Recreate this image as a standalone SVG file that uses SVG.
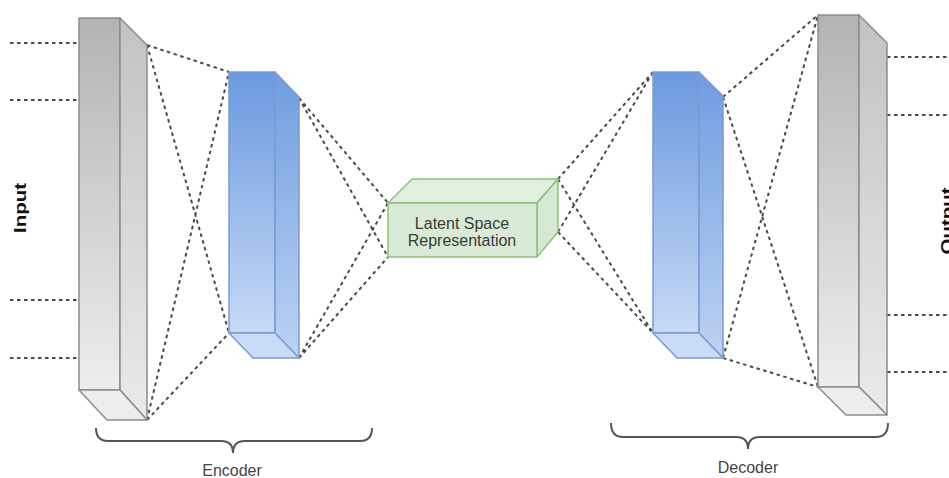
<svg xmlns="http://www.w3.org/2000/svg" width="949" height="478" viewBox="0 0 949 478">
<defs>
<linearGradient id="gGray" x1="0" y1="0" x2="0" y2="1">
<stop offset="0" stop-color="#b3b3b3"/><stop offset="1" stop-color="#ededed"/>
</linearGradient>
<linearGradient id="gGraySide" x1="0" y1="0" x2="0" y2="1">
<stop offset="0" stop-color="#c2c2c2"/><stop offset="1" stop-color="#eaeaea"/>
</linearGradient>
<linearGradient id="gBlue" x1="0" y1="0" x2="0" y2="1">
<stop offset="0" stop-color="#6b98de"/><stop offset="1" stop-color="#c6daf6"/>
</linearGradient>
<linearGradient id="gBlueSide" x1="0" y1="0" x2="0" y2="1">
<stop offset="0" stop-color="#6f9ce0"/><stop offset="1" stop-color="#bcd3f3"/>
</linearGradient>
<style>
.dot{fill:none;stroke:#4a4a4a;stroke-width:2;stroke-dasharray:3.5 3.5}
.gray{stroke:#8c8c8c;stroke-width:1.5;stroke-linejoin:round}
.blue{stroke:#7a9bd0;stroke-width:1.5;stroke-linejoin:round}
.green{stroke:#8fbf78;stroke-width:1.5;stroke-linejoin:round}
.brace{fill:none;stroke:#555;stroke-width:2}
.lbl{font-family:"Liberation Sans",Arial,sans-serif;fill:#444;font-size:16px;text-anchor:middle}
.io{font-family:"Liberation Sans",Arial,sans-serif;fill:#111;font-size:17px;font-weight:bold;text-anchor:middle}
.lat{font-family:"Liberation Sans",Arial,sans-serif;fill:#3a3a3a;font-size:16px;text-anchor:middle}
</style>
</defs>
<g id="connectors">
<path class="dot" d="M10,43H79M10,100H79M10,300H79M10,358H79"/>
<path class="dot" d="M887,57H949M887,115H949M887,315H949M887,372H949"/>
<path class="dot" d="M147,45L229,72M147,45L229,333M147,420L229,72M147,420L229,333"/>
<path class="dot" d="M299,98L388,203M299,98L388,257M299,358L388,203M299,358L388,257"/>
<path class="dot" d="M558,179L653,72M558,179L653,333M558,232L653,72M558,232L653,333"/>
<path class="dot" d="M723,97L818,15M723,97L818,387M723,358L818,15M723,358L818,387"/>
</g>
<g id="input-layer">
<rect class="gray" x="79" y="18" width="41" height="372" fill="url(#gGray)"/>
<polygon class="gray" points="120,18 147,45 147,420 120,390" fill="url(#gGraySide)"/>
<polygon class="gray" points="79,390 120,390 147,420 107,420" fill="#ededed"/>
</g>
<g id="encoder-hidden">
<rect class="blue" x="229" y="72" width="46" height="261" fill="url(#gBlue)"/>
<polygon class="blue" points="275,72 299,97 299,358 275,333" fill="url(#gBlueSide)"/>
<polygon class="blue" points="229,333 275,333 299,358 253,358" fill="#c8dbf7"/>
</g>
<g id="latent">
<polygon class="green" points="388,203 412,179 558,179 537,203" fill="#e1efdf"/>
<polygon class="green" points="537,203 558,179 558,232 537,257" fill="#d5e8d2"/>
<rect class="green" x="388" y="203" width="149" height="54" fill="#d9ebd6"/>
<text class="lat" x="462" y="229">Latent Space</text>
<text class="lat" x="462" y="246">Representation</text>
</g>
<g id="decoder-hidden">
<rect class="blue" x="653" y="72" width="46" height="261" fill="url(#gBlue)"/>
<polygon class="blue" points="699,72 723,96 723,358 699,333" fill="url(#gBlueSide)"/>
<polygon class="blue" points="653,333 699,333 723,358 677,358" fill="#c8dbf7"/>
</g>
<g id="output-layer">
<rect class="gray" x="818" y="15" width="41" height="372" fill="url(#gGray)"/>
<polygon class="gray" points="859,15 887,43 887,415 859,387" fill="url(#gGraySide)"/>
<polygon class="gray" points="818,387 859,387 887,415 846,415" fill="#ededed"/>
</g>
<g id="input-label">
<text class="io" transform="translate(26,208) rotate(-90)" textLength="50" lengthAdjust="spacingAndGlyphs">Input</text>
</g>
<g id="output-label">
<text class="io" transform="translate(953,221) rotate(-90)" textLength="67" lengthAdjust="spacingAndGlyphs">Output</text>
</g>
<g id="encoder-brace">
<path class="brace" d="M96,428Q96,441 108,441L221,441Q233,441 233,453Q233,441 245,441L360,441Q372,441 372,428"/>
<text class="lbl" x="232" y="476">Encoder</text>
</g>
<g id="decoder-brace">
<path class="brace" d="M611,423Q611,437 623,437L736,437Q748,437 748,449Q748,437 760,437L876,437Q888,437 888,423"/>
<text class="lbl" x="748" y="473">Decoder</text>
</g>
</svg>
